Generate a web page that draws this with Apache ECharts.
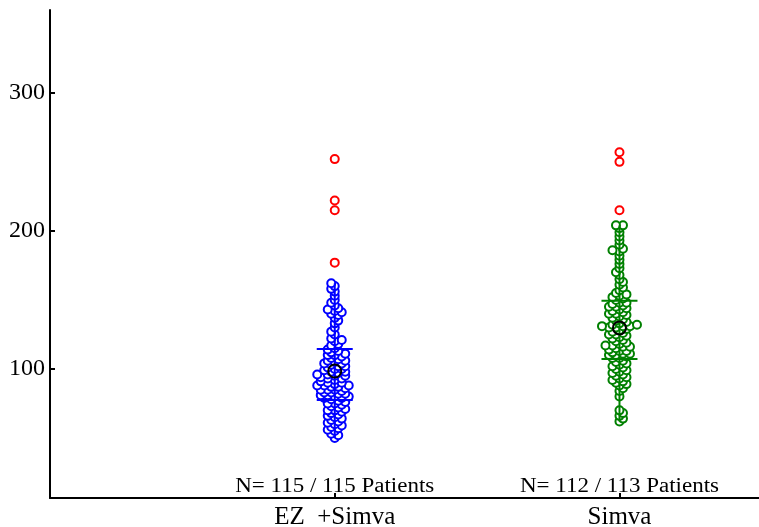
<!DOCTYPE html>
<html>
<head>
<meta charset="utf-8">
<script src="https://cdn.jsdelivr.net/npm/echarts@6/dist/echarts.min.js"></script>
<style>
  html, body {margin:0;padding:0;background:#fff;}
  #chart {width:759px;height:527px;}
</style>
</head>
<body>
<div id="chart"></div>
<script>
// groups and labels
var groups = ['EZ  +Simva', 'Simva'];
var groupPos = [1, 2];
var nLabels = ['N= 115 / 115 Patients', 'N= 112 / 113 Patients'];
var colors = ['#0000ff', '#008000'];

// patient values
var ezSimva = [162, 160, 158, 156, 153, 150, 148, 146, 144, 143, 142, 141, 140, 139, 137, 135, 133, 130, 127, 125, 122, 121, 120, 118, 117, 115, 114, 113,
  112, 111, 110, 110, 109, 108, 107, 106, 106, 105, 104, 103, 102, 102, 101, 100, 100, 99, 98, 98, 97, 96, 95, 95, 94, 93, 92, 91, 90, 90, 89, 88, 88, 87, 87, 86, 85, 85, 84, 83, 82, 82, 81, 80, 80, 79, 78, 96, 93, 88, 85, 83, 81, 79, 104,
  77, 76, 75, 75, 74, 73, 72, 71, 70, 70, 69, 68, 67, 66, 65, 64, 63, 62, 61, 60, 59, 58, 57, 56, 55, 53, 52, 50];
var simva = [204, 204, 202, 199, 196, 193, 190, 187, 186, 185, 182, 179, 176, 173, 170, 168, 165, 163, 161, 159, 157, 155, 154, 153, 152, 151, 150,
  148, 148, 147, 146, 145, 145, 144, 143, 142, 141, 140, 139, 138, 137, 136, 135, 134, 133, 132, 132, 131, 131, 130, 130, 129, 128, 127, 126, 125, 124, 123, 122, 121, 120, 119, 118, 117, 116, 116, 115, 114, 113, 113, 112, 111, 110, 110, 109, 108, 108, 140, 131, 125, 117, 111,
  106, 105, 104, 103, 102, 101, 100, 99, 98, 97, 96, 95, 94, 93, 92, 91, 90, 89, 88, 86, 84, 80, 70, 68, 66, 64, 62];
var ezOutliers = [252, 222, 215, 177];
var simvaOutliers = [257, 250, 215];

// summary marks
var means = [98.5, 129.7];
var upperBars = [114.5, 149.3];
var lowerBars = [77.5, 107.2];

var yTicks = [100, 200, 300];
var yMin = 6.5, yMax = 360, xMin = 0, xMax = 2.49;

var grid = {left: 50, right: 0, top: 10, bottom: 29, outerBoundsMode: 'none'};
var gridW = 759 - grid.left - grid.right;
var gridH = 527 - grid.top - grid.bottom;
var pxPerY = gridH / (yMax - yMin);
var unitPerPxX = (xMax - xMin) / gridW;

// simple beeswarm so the circles stack side by side
function swarm(vals, center) {
  var sorted = vals.slice().sort(function (a, b) { return a - b; });
  var placed = [], out = [];
  var minDist = 4, step = 3.5;
  sorted.forEach(function (v, i) {
    var y = v * pxPerY;
    for (var k = 0; k < 40; k++) {
      var cands = k === 0 ? [0] : (i % 2 ? [k * step, -k * step] : [-k * step, k * step]);
      var hit = null;
      for (var c = 0; c < cands.length; c++) {
        var x = cands[c];
        var ok = placed.every(function (p) {
          return Math.hypot(p[0] - x, p[1] - y) >= minDist;
        });
        if (ok) { hit = x; break; }
      }
      if (hit !== null) {
        placed.push([hit, y]);
        out.push([center + hit * unitPerPxX, v]);
        break;
      }
    }
  });
  return out;
}

var allVals = [ezSimva, simva];
var allOut = [ezOutliers, simvaOutliers];
var font = 'Liberation Serif';

var series = [];
allVals.forEach(function (vals, g) {
  series.push({
    type: 'scatter',
    data: swarm(vals, groupPos[g]),
    symbol: 'emptyCircle',
    symbolSize: 8,
    itemStyle: {color: colors[g], borderWidth: 2, opacity: 1},
    z: 2
  });
  series.push({
    type: 'scatter',
    data: allOut[g].map(function (v) { return [groupPos[g], v]; }),
    symbol: 'emptyCircle',
    symbolSize: 8,
    itemStyle: {color: '#ff0000', borderWidth: 2, opacity: 1},
    z: 2
  });
});

// whisker line and bars
series.push({
  type: 'custom',
  z: 3,
  data: groupPos.map(function (x, g) {
    return [x, Math.min.apply(null, allVals[g]), Math.max.apply(null, allVals[g]), lowerBars[g], upperBars[g], g];
  }),
  renderItem: function (params, api) {
    var x = api.value(0);
    var g = api.value(5);
    var lo = api.coord([x, api.value(1)]);
    var hi = api.coord([x, api.value(2)]);
    var b1 = api.coord([x, api.value(3)]);
    var b2 = api.coord([x, api.value(4)]);
    var st = {stroke: colors[g], lineWidth: 2};
    return {
      type: 'group',
      children: [
        {type: 'line', shape: {x1: lo[0], y1: lo[1], x2: hi[0], y2: hi[1]}, style: st},
        {type: 'line', shape: {x1: b1[0] - 18, y1: b1[1], x2: b1[0] + 18, y2: b1[1]}, style: st},
        {type: 'line', shape: {x1: b2[0] - 18, y1: b2[1], x2: b2[0] + 18, y2: b2[1]}, style: st}
      ]
    };
  }
});

series.push({
  type: 'scatter',
  data: groupPos.map(function (x, g) { return [x, means[g]]; }),
  symbol: 'circle',
  symbolSize: 13,
  itemStyle: {color: 'rgba(0,0,0,0)', borderColor: '#000', borderWidth: 2, opacity: 1},
  z: 4
});

// N labels just above the axis, slightly stretched like the original
series.push({
  type: 'custom',
  z: 5,
  silent: true,
  data: groupPos.map(function (x, g) { return [x, yMin, g]; }),
  renderItem: function (params, api) {
    var p = api.coord([api.value(0), api.value(1)]);
    return {
      type: 'text',
      x: p[0], y: p[1] - 1,
      scaleX: 1.15,
      style: {
        text: nLabels[api.value(2)],
        fontFamily: font, fontSize: 20, fill: '#000',
        align: 'center', verticalAlign: 'bottom'
      }
    };
  }
});

var myChart = echarts.init(document.getElementById('chart'), null, {renderer: 'canvas'});
var option = {
  animation: false,
  backgroundColor: '#fff',
  grid: grid,
  xAxis: {
    type: 'value', min: xMin, max: xMax,
    splitLine: {show: false},
    axisLine: {lineStyle: {color: '#000', width: 2}},
    axisTick: {show: true, inside: true, length: 5, customValues: groupPos, lineStyle: {color: '#000', width: 2}},
    axisLabel: {
      show: true, customValues: groupPos, margin: 7,
      fontFamily: font, fontSize: 25, color: '#000',
      formatter: function (v) { return groups[groupPos.indexOf(Math.round(v))] || ''; }
    }
  },
  yAxis: {
    type: 'value', min: yMin, max: yMax,
    splitLine: {show: false},
    axisLine: {show: true, lineStyle: {color: '#000', width: 2}},
    axisTick: {show: true, inside: true, length: 5, customValues: yTicks, lineStyle: {color: '#000', width: 2}},
    axisLabel: {show: true, customValues: yTicks, margin: 5, fontFamily: font, fontSize: 24, color: '#000'}
  },
  series: series
};
myChart.setOption(option, true);
</script>
</body>
</html>
